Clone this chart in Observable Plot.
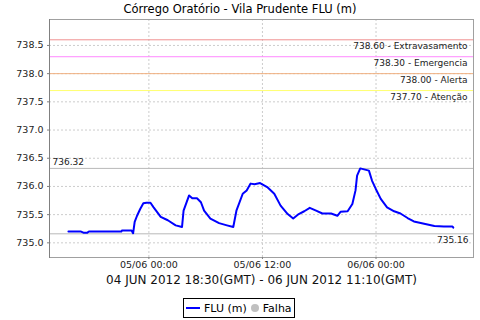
<!DOCTYPE html>
<html>
<head>
<meta charset="utf-8">
<script src="https://cdn.jsdelivr.net/npm/d3@7"></script>
<script src="https://cdn.jsdelivr.net/npm/@observablehq/plot@0.6"></script>
<style>
  html, body { margin: 0; padding: 0; background: #fff; }
  #wrap { position: relative; width: 480px; height: 320px; font-family: "DejaVu Sans", sans-serif; }
  #title { position: absolute; top: 2px; left: 0; width: 480px; text-align: center; font-size: 11.5px; color: #000; }
  #chart { position: absolute; top: 0; left: 0; }
  #legend { position: absolute; top: 298px; left: 183px; height: 20px; border: 1px solid #000; box-sizing: border-box;
            display: flex; align-items: center; font-size: 11px; gap: 3px; padding: 0 2px 0 1px; background: #fff; white-space: nowrap; }
</style>
</head>
<body>
<div id="wrap">
  <div id="chart"></div>
  <div id="title"></div>
  <div id="legend"></div>
</div>
<script>
// ---- data ----
const chartTitle = "Córrego Oratório - Vila Prudente FLU (m)";
const periodLabel = "04 JUN 2012 18:30(GMT) - 06 JUN 2012 11:10(GMT)";
const seriesName = "FLU (m)";
const failName = "Falha";

const times = [
  "2012-06-04T15:30","2012-06-04T16:50","2012-06-04T17:05","2012-06-04T17:30","2012-06-04T17:40",
  "2012-06-04T21:05","2012-06-04T21:10","2012-06-04T22:10","2012-06-04T22:20","2012-06-04T22:30",
  "2012-06-04T22:45","2012-06-04T23:05","2012-06-04T23:25","2012-06-04T23:45","2012-06-05T00:10",
  "2012-06-05T00:30","2012-06-05T01:15","2012-06-05T02:00","2012-06-05T02:50","2012-06-05T03:30",
  "2012-06-05T03:40","2012-06-05T04:15","2012-06-05T04:35","2012-06-05T05:05","2012-06-05T05:30",
  "2012-06-05T05:50","2012-06-05T06:30","2012-06-05T07:25","2012-06-05T08:15","2012-06-05T08:55",
  "2012-06-05T09:15","2012-06-05T09:55","2012-06-05T10:20","2012-06-05T10:45","2012-06-05T11:10",
  "2012-06-05T11:45","2012-06-05T12:30","2012-06-05T13:15","2012-06-05T13:55","2012-06-05T14:40",
  "2012-06-05T15:15","2012-06-05T15:50","2012-06-05T16:25","2012-06-05T17:00","2012-06-05T17:40",
  "2012-06-05T18:20","2012-06-05T19:15","2012-06-05T19:55","2012-06-05T20:15","2012-06-05T21:00",
  "2012-06-05T21:30","2012-06-05T21:50","2012-06-05T22:00","2012-06-05T22:20","2012-06-05T23:15",
  "2012-06-05T23:35","2012-06-05T23:58","2012-06-06T00:30","2012-06-06T01:10","2012-06-06T01:55",
  "2012-06-06T02:35","2012-06-06T03:20","2012-06-06T04:00","2012-06-06T05:05","2012-06-06T06:10",
  "2012-06-06T07:10","2012-06-06T08:05","2012-06-06T08:10"
];
const levels = [
  735.20,735.20,735.18,735.18,735.20,
  735.20,735.22,735.22,735.17,735.37,
  735.48,735.60,735.70,735.71,735.71,
  735.63,735.46,735.40,735.31,735.28,
  735.57,735.84,735.79,735.79,735.72,
  735.57,735.43,735.35,735.31,735.28,
  735.57,735.87,735.93,736.05,736.04,
  736.06,735.99,735.87,735.66,735.51,
  735.43,735.51,735.56,735.62,735.57,
  735.52,735.52,735.48,735.55,735.56,
  735.69,735.93,736.19,736.32,736.28,
  736.10,735.96,735.78,735.63,735.56,
  735.52,735.44,735.38,735.34,735.30,
  735.29,735.29,735.27
];

const thresholdValues = [738.60, 738.30, 738.00, 737.70];
const thresholdNames = ["Extravasamento", "Emergencia", "Alerta", "Atenção"];
const maxLevel = 736.32;
const minLevel = 735.16;

const yTicks = [735.0, 735.5, 736.0, 736.5, 737.0, 737.5, 738.0, 738.5];
const xTicks = ["2012-06-05T00:00", "2012-06-05T12:00", "2012-06-06T00:00"];
const xDomain = ["2012-06-04T13:30", "2012-06-06T10:18"];
const yDomain = [734.74, 738.96];

// ---- styles ----
const thresholdColors = ["#f09090", "#ff88ff", "#f0b080", "#ffff70"];
const font = "DejaVu Sans, sans-serif";

// ---- build ----
const utc = s => new Date(s + "Z");
const series = times.map((t, i) => ({t: utc(t), v: levels[i]}));
const thresholds = thresholdValues.map((v, i) => ({v, name: thresholdNames[i], color: thresholdColors[i]}));
const xTickDates = xTicks.map(utc);
const fmt = d3.utcFormat("%d/%m %H:%M");

document.getElementById("title").textContent = chartTitle;

const chart = Plot.plot({
  width: 480,
  height: 295,
  marginTop: 19,
  marginBottom: 38,
  marginLeft: 49,
  marginRight: 7,
  style: {fontFamily: font, background: "white", overflow: "visible"},
  x: {type: "utc", domain: xDomain.map(utc)},
  y: {domain: yDomain},
  marks: [
    Plot.gridY(yTicks, {stroke: "#cccccc", strokeOpacity: 1, strokeDasharray: "2,2"}),
    Plot.gridX(xTickDates, {stroke: "#cccccc", strokeOpacity: 1, strokeDasharray: "2,2"}),
    Plot.ruleY(thresholds, {y: "v", stroke: "color", strokeWidth: 1}),
    Plot.ruleY([maxLevel, minLevel], {stroke: "#b8b8b8", strokeWidth: 1}),
    Plot.line(series, {x: "t", y: "v", stroke: "#0000ff", strokeWidth: 2}),
    Plot.text(thresholds, {y: "v", frameAnchor: "right", text: d => d.v.toFixed(2) + " - " + d.name,
      textAnchor: "end", lineAnchor: "top", dx: -6, dy: 3, fontSize: 9, fill: "#222"}),
    Plot.text([maxLevel], {y: d => d, frameAnchor: "left", text: d => d.toFixed(2),
      textAnchor: "start", lineAnchor: "bottom", dx: 3, dy: -3, fontSize: 9, fill: "#222"}),
    Plot.text([minLevel], {y: d => d, frameAnchor: "right", text: d => d.toFixed(2),
      textAnchor: "end", lineAnchor: "top", dx: -5, dy: 3, fontSize: 9, fill: "#222"}),
    Plot.frame({stroke: "#a0a0a0"}),
    Plot.frame({anchor: "left", stroke: "#808080"}),
    Plot.axisY(yTicks, {tickFormat: d => d.toFixed(1), tickSize: 2, tickPadding: 4, fontSize: 9.5, stroke: "#808080", color: "#222", label: null}),
    Plot.axisX(xTickDates, {tickFormat: fmt, tickSize: 2, tickPadding: 2, fontSize: 9.5, stroke: "#808080", color: "#222", label: null}),
    Plot.text([periodLabel], {frameAnchor: "bottom", text: d => d, dy: 26, fontSize: 12, fill: "#111"})
  ]
});
document.getElementById("chart").appendChild(chart);

// legend
const legend = document.getElementById("legend");
legend.innerHTML =
  `<svg width="16" height="10"><line x1="1" y1="5" x2="15" y2="5" stroke="#0000ff" stroke-width="2"/></svg>` +
  `<span></span>` +
  `<svg width="10" height="10"><circle cx="5" cy="5" r="4" fill="#c0c0c0"/></svg>` +
  `<span></span>`;
const spans = legend.querySelectorAll("span");
spans[0].textContent = seriesName;
spans[1].textContent = failName;
</script>
</body>
</html>
